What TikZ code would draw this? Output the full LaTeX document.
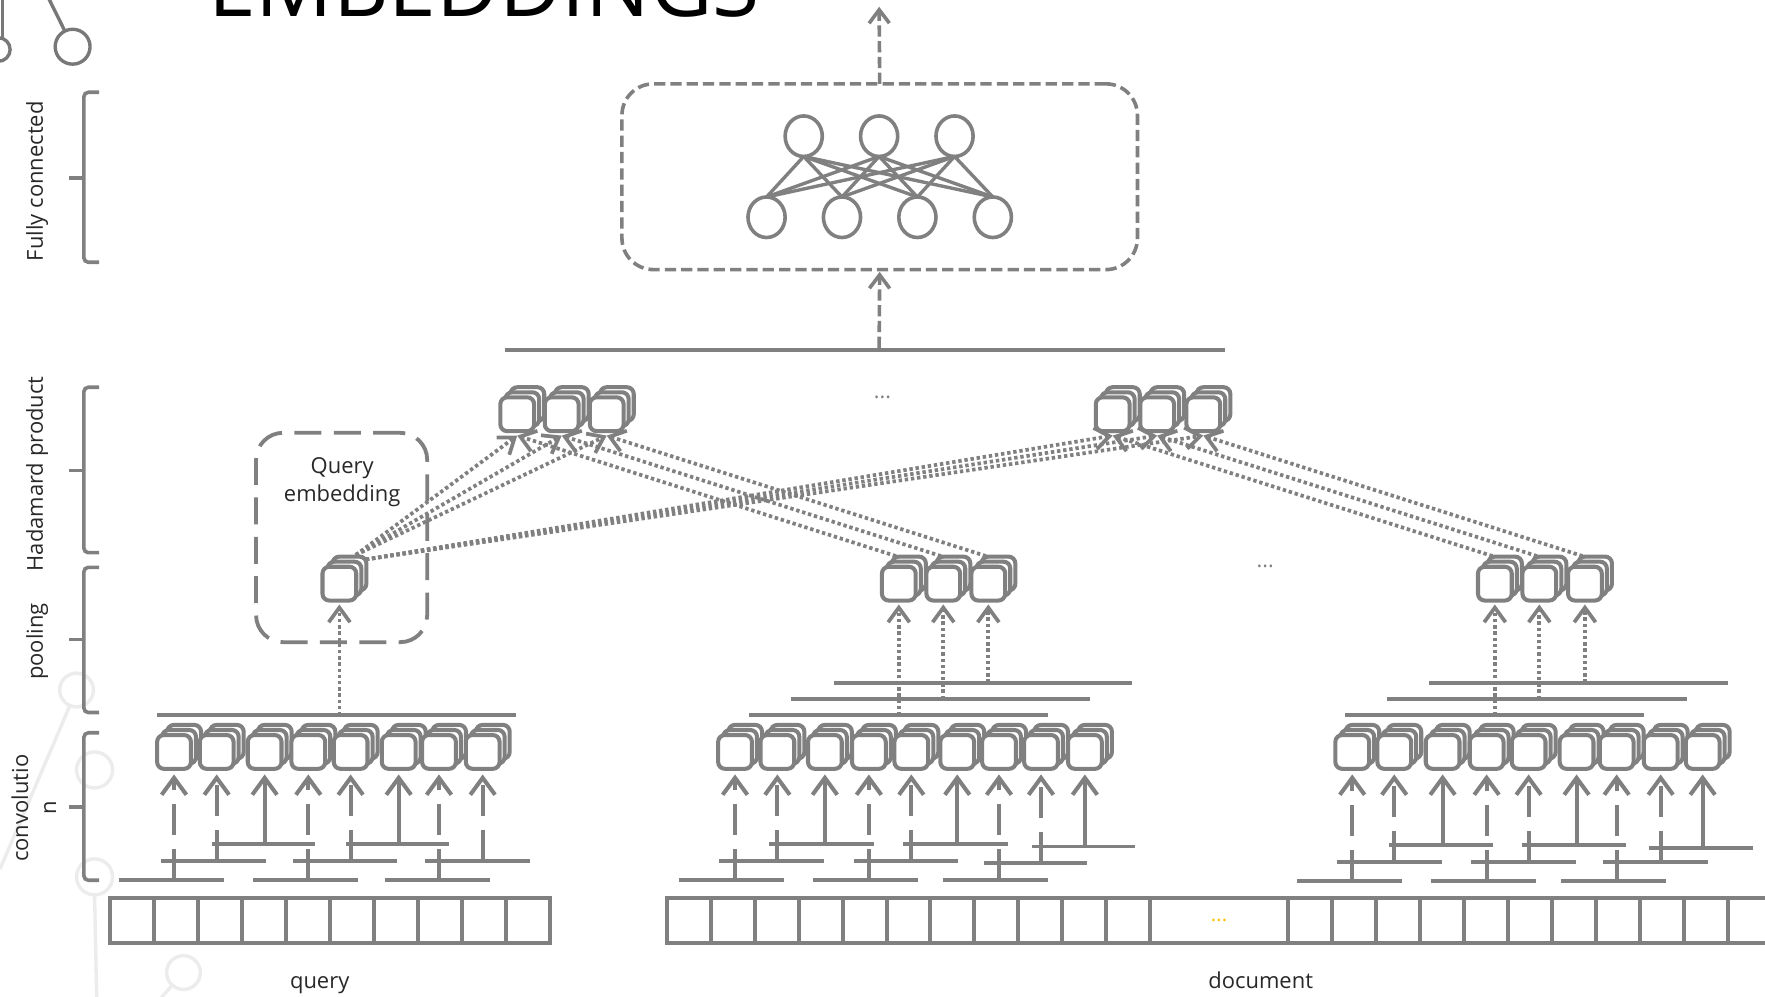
\documentclass[tikz,border=0pt]{standalone}
\usepackage{fontspec}
\setmainfont{Open Sans}
\usetikzlibrary{arrows.meta,shapes.geometric}
\definecolor{gc}{RGB}{128,128,128}
\definecolor{tc}{RGB}{40,40,40}
\definecolor{lc}{RGB}{236,236,236}
\definecolor{oc}{RGB}{255,192,0}
\definecolor{logoc}{RGB}{120,120,120}
\newcommand{\stackcube}[3]{%
  \node[cubebox] at (#2+9,#3-9) {};
  \node[cubebox] at (#2+4.5,#3-4.5) {};
  \node[cubebox] (#1) at (#2,#3) {};
}
\begin{document}
\begin{tikzpicture}[x=1pt,y=-1pt,
  every node/.style={inner sep=0pt,outer sep=0pt},
  ln/.style={draw=gc,line width=3.5pt},
  faint/.style={draw=lc,line width=3pt},
  cubebox/.style={rectangle,draw=gc,fill=white,line width=3.6pt,rounded corners=6pt,minimum size=30pt},
  tipv/.style={-{Straight Barb[length=15pt,width=22pt]}},
  convarrow/.style={draw=gc,line width=3.6pt,tipv},
  longdash/.style={dash pattern=on 28pt off 12pt},
  dotline/.style={draw=gc,line width=3.3pt,dash pattern=on 3pt off 2.5pt},
  dotarrow/.style={dotline,-{Straight Barb[length=13pt,width=19pt]}},
  dasharrow/.style={draw=gc,line width=3.2pt,dash pattern=on 10pt off 4pt,-{Straight Barb[length=12pt,width=18pt]}},
  neuron/.style={ellipse,draw=gc,line width=3.2pt,minimum width=33pt,minimum height=36pt},
  nnline/.style={draw=gc,line width=3pt},
  lbl/.style={text=tc,font=\fontsize{19.5}{25}\selectfont},
  dots/.style={text=gc,font=\fontsize{19}{19}\selectfont},
  brace/.style={draw=gc,line width=3.2pt,rounded corners=4pt},
  logo/.style={draw=logoc,line width=3pt}
]
\useasboundingbox (0,0) rectangle (1568,885);
\clip (0,0) rectangle (1568,885);
\fill[white] (0,0) rectangle (1568,885);

% faint background decoration
\node[circle,faint,minimum size=30pt] (f1) at (68,613) {};
\node[circle,faint,minimum size=32pt] (f2) at (84,684) {};
\node[circle,faint,minimum size=32pt] (f3) at (84,779) {};
\node[circle,faint,minimum size=30pt] (f4) at (163,864) {};
\coordinate (f1e) at (0,772);
\coordinate (f3e) at (86,890);
\coordinate (f4e) at (140,890);
\draw[faint] (f1) -- (f1e);
\draw[faint] (f3.south) -- (f3e);
\draw[faint] (f4) -- (f4e);

% title and logo
\node[anchor=base west,text=black] (title) at (185,15) {\resizebox{490pt}{!}{\fontsize{76}{80}\selectfont EMBEDDINGS}};
\node[circle,logo,minimum size=31pt] (lg1) at (64.5,41.5) {};
\node[circle,logo,minimum size=21pt] (lg2) at (-1.5,44) {};
\coordinate (lg1s) at (42,-4);
\coordinate (lg2s) at (2,-4);
\draw[logo] (lg1s) -- (lg1);
\draw[logo] (lg2s) -- (2,34);

% left labels and braces
\node[lbl,rotate=90] (lfc) at (33,161) {Fully connected};
\node[lbl,rotate=90] (lhp) at (33,421) {Hadamard product};
\node[lbl,rotate=90] (lpo) at (33,570) {pooling};
\node[lbl,rotate=90,align=center] (lcv) at (30,718) {convolutio\\n};
\foreach \t/\m/\b in {82/158/233, 344/418/491, 504/568/633, 651/717/782}{
  \draw[brace] (88,\t) -- (74.5,\t) -- (74.5,\b) -- (88,\b);
  \draw[draw=gc,line width=3.2pt] (74.5,\m) -- (61,\m);
}

% token bars
\draw[ln] (97.7,797.7) rectangle (488.6,837.7);
\foreach \k in {1,...,9}{\draw[ln] (97.7+39.09*\k,797.7) -- (97.7+39.09*\k,837.7);}
\draw[ln] (1620,797.7) -- (592.6,797.7) -- (592.6,837.7) -- (1620,837.7);
\foreach \k in {1,...,11}{\draw[ln] (592.6+39*\k,797.7) -- (592.6+39*\k,837.7);}
\foreach \k in {0,...,10}{\draw[ln] (1144.5+39.05*\k,797.7) -- (1144.5+39.05*\k,837.7);}
\node[text=oc,font=\fontsize{18}{18}\selectfont] (ddots) at (1083,818) {...};
\node[lbl,anchor=base] (qlab) at (284,878) {query};
\node[lbl,anchor=base] (dlab) at (1120,878) {document};

% convolution window lines
\foreach \a/\b/\y in {106/199/782, 225/318/782, 342/435/782,
  143/236/765, 260.6/353/765, 377.5/471/765, 188/280/750, 307/399/750,
  603.3/696.5/782, 722.2/815.4/782, 837.8/931/782,
  638.6/732.1/765, 758.3/851.1/765, 873.9/966/767,
  683.5/776.3/750, 802.4/895.3/750, 916.4/1008.5/752,
  1152.5/1245.2/783, 1271.2/1364.2/783, 1386.7/1479.7/783,
  1188/1280.7/766, 1306.7/1399.7/766, 1424.3/1517/766,
  1234.2/1326.6/751, 1351.8/1444.2/751, 1464.8/1557.6/753.5}{
  \draw[ln] (\a,\y) -- (\b,\y);
}

% pooling lines
\foreach \a/\b/\y in {139.6/458/635.5,
  665.8/931/635.5, 702.5/968.3/621, 740.6/1005.6/606.5,
  1194.8/1460.7/635.5, 1232.4/1498.3/621, 1269.7/1535.3/606.5}{
  \draw[ln] (\a,\y) -- (\b,\y);
}
\draw[ln] (449,311) -- (1088,311);

% conv cubes
\foreach \x [count=\i] in {154.6,192.5,235.1,273.9,311.5,354.2,390,428.8}{\stackcube{qc\i}{\x}{668}}
\foreach \x [count=\i] in {653,690.6,732.8,771.9,809.6,850.4,887.5,924.8,963.8}{\stackcube{dc\i}{\x}{668}}
\foreach \x [count=\i] in {1201.3,1238.6,1281.6,1320.7,1358,1400.6,1436.2,1475.3,1512.6}{\stackcube{ec\i}{\x}{668}}

% conv arrows
\foreach \x/\y/\st [count=\i] in {154.6/782/longdash,192.5/765/longdash,235.1/750/solid,273.9/782/longdash,311.5/765/longdash,354.2/750/solid,390/782/longdash,428.8/765/longdash}{
  \coordinate (qa\i) at (\x,\y);
  \draw[convarrow,\st] (qa\i) -- ([yshift=-5pt]qc\i.south);
}
\foreach \x/\y/\st [count=\i] in {653/782/longdash,690.6/765/longdash,732.8/750/solid,771.9/782/longdash,809.6/765/longdash,850.4/750/solid,887.5/782/longdash,924.8/767/longdash,963.8/752/solid}{
  \coordinate (da\i) at (\x,\y);
  \draw[convarrow,\st] (da\i) -- ([yshift=-5pt]dc\i.south);
}
\foreach \x/\y/\st [count=\i] in {1201.3/783/longdash,1238.6/766/longdash,1281.6/751/solid,1320.7/783/longdash,1358/766/longdash,1400.6/751/solid,1436.2/783/longdash,1475.3/766/longdash,1512.6/753.5/solid}{
  \coordinate (ea\i) at (\x,\y);
  \draw[convarrow,\st] (ea\i) -- ([yshift=-5pt]ec\i.south);
}

% query embedding box
\node[draw=gc,line width=3.4pt,dash pattern=on 24pt off 11pt,rounded corners=24pt,minimum width=152pt,minimum height=186pt] (qebox) at (303.5,477.5) {};
\node[lbl,align=center] (qetext) at (304,428) {Query\\embedding};

% Hadamard dotted connections (drawn below cubes)
\coordinate (qsl) at (316,493);
\coordinate (qsr) at (325,497);
\foreach \x [count=\i] in {459.5,499,539}{\coordinate (hlb\i) at (\x,387);}
\foreach \x [count=\i] in {988.5,1028,1069}{\coordinate (hrb\i) at (\x,387);}
\foreach \x [count=\i] in {796,836,876}{\coordinate (dpt\i) at (\x,494);}
\foreach \x [count=\i] in {1326,1365.5,1406}{\coordinate (ept\i) at (\x,494);}
\foreach \i in {1,2,3}{
  \draw[dotarrow] (qsl) -- (hlb\i);
  \draw[dotarrow] (qsr) -- (hrb\i);
  \draw[dotarrow] (dpt\i) -- (hlb\i);
  \draw[dotarrow] (ept\i) -- (hrb\i);
}

% pooled cubes
\stackcube{pq}{301.5}{518.5}
\foreach \x [count=\i] in {798.5,838,878}{\stackcube{dp\i}{\x}{518.5}}
\foreach \x [count=\i] in {1328,1367.5,1408}{\stackcube{ep\i}{\x}{518.5}}
% Hadamard cubes
\foreach \x [count=\i] in {459.5,499,539}{\stackcube{hl\i}{\x}{368}}
\foreach \x [count=\i] in {988.5,1028,1069}{\stackcube{hr\i}{\x}{368}}

% pooling dotted arrows
\coordinate (pqa) at (301.5,635.5);
\draw[dotarrow] (pqa) -- ([yshift=-3.5pt]pq.south);
\foreach \x/\y [count=\i] in {798.5/635.5,838/621,878/606.5}{
  \coordinate (dpa\i) at (\x,\y);
  \draw[dotarrow] (dpa\i) -- ([yshift=-3.5pt]dp\i.south);
}
\foreach \x/\y [count=\i] in {1328/635.5,1367.5/621,1408/606.5}{
  \coordinate (epa\i) at (\x,\y);
  \draw[dotarrow] (epa\i) -- ([yshift=-3.5pt]ep\i.south);
}
\node[dots] (hdots) at (784,353) {...};
\node[dots] (pdots) at (1124,503) {...};

% fully connected block
\node[draw=gc,line width=3.2pt,dash pattern=on 10pt off 4.5pt,rounded corners=28pt,minimum width=458pt,minimum height=165pt] (nnbox) at (781.5,157) {};
\foreach \x [count=\i] in {714,781,848}{\node[neuron] (t\i) at (\x,121) {};}
\foreach \x [count=\i] in {681,748,815,882}{\node[neuron] (b\i) at (\x,193) {};}
\foreach \i in {1,2,3}{\foreach \j in {1,...,4}{\draw[nnline] (t\i.south) -- (b\j.north);}}
\coordinate (hup) at (781,309);
\draw[dasharrow] (hup) -- ([yshift=-2pt]nnbox.south);
\coordinate (outtop) at (781,6);
\draw[dasharrow] (nnbox.north) -- (outtop);
\end{tikzpicture}
\end{document}
